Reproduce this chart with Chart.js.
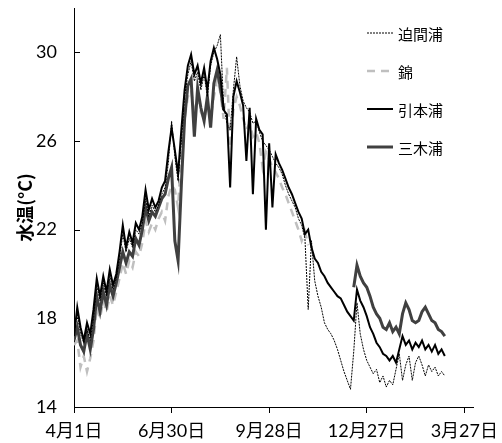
<!DOCTYPE html>
<html lang="ja">
<head>
<meta charset="utf-8">
<title>水温</title>
<script src="https://cdn.jsdelivr.net/npm/chart.js@4.4.1/dist/chart.umd.min.js"></script>
<style>
  body { margin: 0; background: #fff; }
  #wrap { position: relative; width: 502px; height: 443px; }
  .item { position: absolute; left: 367px; height: 24px; display: flex; align-items: center; white-space: nowrap;
          font-family: "Noto Sans CJK JP", sans-serif; font-size: 15px; color: #000; }
  .item svg { margin-right: 5px; }
</style>
</head>
<body>
<div id="wrap">
  <canvas id="tempChart"></canvas>
</div>
<script>
// sampled every 3 days from 4/1
const sampleStep = 3;

const xTickDays = [0, 90, 180, 270, 360];
const xTickLabels = ['4月1日', '6月30日', '9月28日', '12月27日', '3月27日'];
const yTicks = [14, 18, 22, 26, 30];

const seriesNames = ['迫間浦', '錦', '引本浦', '三木浦'];

const hasamaura = [
  17.4, 18.2, 17.3, 16.9, 17.5, 17.0, 18.0, 19.5, 18.8, 19.6,
  19.0, 19.9, 19.3, 19.8, 20.7, 21.8, 21.0, 21.6, 21.2, 22.0,
  21.8, 22.3, 23.4, 22.6, 23.1, 22.8, 23.1, 23.6, 23.9, 25.0,
  26.9, 25.3, 24.2, 26.0, 28.0, 29.0, 29.6, 28.7, 29.1, 28.3,
  29.0, 28.0, 29.4, 30.0, 30.3, 30.8, 27.6, 26.8, 26.5, 28.3,
  29.8, 28.5, 27.8, 27.5, 27.3, 26.8, 26.9, 26.4, 26.0, 25.8,
  25.6, 25.3, 25.0, 24.8, 24.5, 24.0, 23.6, 23.3, 23.0, 22.5,
  22.2, 21.6, 18.4, 21.5, 19.7, 19.0, 18.5, 17.8, 17.5, 17.3,
  17.0, 16.6, 16.1, 15.6, 15.2, 14.8, 16.5, 18.7, 17.3, 16.6,
  16.1, 15.8, 15.5, 15.7, 15.1, 15.4, 14.9, 15.2, 15.0, 15.7,
  16.4, 15.2, 15.9, 16.3, 15.2, 16.0, 16.3, 15.9, 15.4, 15.9,
  15.6, 15.8, 15.4, 15.6, 15.4
];

const nishiki = [
  16.8, 17.0, 15.8, 16.3, 15.6, 16.2, 17.0, 18.5, 18.0, 18.8,
  18.3, 19.0, 18.6, 19.2, 19.8, 20.5, 20.0, 20.6, 20.3, 21.0,
  20.8, 21.4, 22.4, 21.9, 22.3, 22.0, 22.5, 22.8, 22.4, 23.5,
  24.0, 23.8, 23.0, 25.5, 27.0, 28.0, 28.3, 27.2, 28.0, 27.3,
  27.0, 27.6, 27.0, 28.0, 28.8, 28.2, 27.0, 29.3, 25.7, 27.4,
  28.0, 27.6, 27.0, 26.5, 26.8, 26.2, 26.4, 25.9, 24.8, 25.5,
  25.2, 24.8, 24.6, 24.3, 23.9, 23.6, 23.2, 22.8, 22.4, 22.0,
  21.5, 21.9, 21.3
];

const hikimotoura = [
  17.2, 18.5, 17.6, 17.0, 17.8, 17.3, 18.4, 19.8, 19.0, 19.9,
  19.2, 20.2, 19.5, 20.0, 21.0, 22.2, 21.2, 21.9, 21.4, 22.3,
  22.0, 22.6, 23.8, 22.9, 23.4, 23.0, 23.3, 23.9, 24.2, 25.5,
  26.6, 25.6, 24.5, 26.5, 28.3, 29.4, 29.9, 29.0, 29.4, 28.6,
  29.3, 28.3, 29.6, 30.2, 29.7, 29.0, 27.4, 27.2, 23.9, 28.0,
  28.7, 28.2, 27.6, 25.1, 27.5, 23.6, 27.0, 26.5, 26.3, 22.0,
  25.9, 23.0, 25.4, 25.0, 24.7, 24.3, 23.9, 23.6, 23.2, 22.8,
  22.5, 21.8, 22.0, 21.2, 20.7, 20.5, 20.1, 19.9, 19.6, 19.4,
  19.2, 19.0, 18.9, 18.6, 18.3, 18.1, 17.9, 19.3, 18.8, 18.5,
  18.1, 17.6, 17.3, 16.9, 16.7, 16.4, 16.3, 16.1, 16.3, 16.0,
  16.6, 17.2, 16.8, 17.0, 16.6, 16.9, 16.7, 17.0, 16.6, 16.8,
  16.5, 16.8, 16.4, 16.6, 16.3
];

const mikiura = [
  17.0, 17.6, 16.8, 16.5, 17.3, 16.6, 17.5, 19.0, 18.3, 19.2,
  18.6, 19.5, 19.0, 19.6, 20.3, 21.0, 20.5, 21.0, 20.8, 21.6,
  21.3, 22.0, 23.0, 22.4, 22.8, 22.6, 23.0, 23.4, 23.6, 24.3,
  24.8, 21.5, 20.6, 24.0, 27.0, 28.5, 28.8, 26.2, 28.4, 27.5,
  26.9, 28.0, 26.6, 28.6, 29.2, 28.4, 27.4, null, null, null,
  null, null, null, null, null, null, null, null, null, null,
  null, null, null, null, null, null, null, null, null, null,
  null, null, null, null, null, null, null, null, null, null,
  null, null, null, null, null, null, 19.4, 20.4, 19.9, 19.6,
  19.4, 19.0, 18.5, 18.2, 18.0, 17.6, 17.5, 17.8, 17.4, 17.6,
  17.3, 18.2, 18.7, 18.4, 17.9, 17.8, 17.9, 18.3, 18.5, 18.2,
  17.9, 17.8, 17.5, 17.4, 17.2
];

const colors = ['#000000', '#bfbfbf', '#000000', '#404040'];
const widths = [1, 2.5, 2, 3];
const dashes = [[2, 1], [8, 6], [], []];
const drawOrder = [0, 3, 1, 2];

function toPoints(vals) {
  return vals.map((v, i) => ({ x: i * sampleStep, y: v }));
}

const allSeries = [hasamaura, nishiki, hikimotoura, mikiura];

const innerTicks = {
  id: 'innerTicks',
  afterDraw(chart) {
    const ctx = chart.ctx;
    const yScale = chart.scales.y;
    const left = chart.chartArea.left;
    ctx.save();
    ctx.strokeStyle = '#000';
    ctx.lineWidth = 1;
    yTicks.forEach(v => {
      const y = Math.round(yScale.getPixelForValue(v)) + 0.5;
      ctx.beginPath();
      ctx.moveTo(left, y);
      ctx.lineTo(left + 6, y);
      ctx.stroke();
    });
    ctx.restore();
  }
};

const tickFont = { family: 'Lato, "Noto Sans CJK JP", sans-serif', size: 18 };

document.addEventListener('DOMContentLoaded', function () {
    const ctx = document.getElementById('tempChart').getContext('2d');
    const tempChart = new Chart(ctx, {
        type: 'line',
        data: {
            datasets: seriesNames.map((name, i) => ({
                label: name,
                data: toPoints(allSeries[i]),
                borderColor: colors[i],
                borderWidth: widths[i],
                borderDash: dashes[i],
                pointRadius: 0,
                tension: 0,
                fill: false,
                spanGaps: false,
                order: drawOrder[i]
            }))
        },
        options: {
            responsive: true,
            maintainAspectRatio: false,
            animation: false,
            layout: { padding: { top: 8, right: 29, left: 0, bottom: 0 } },
            plugins: {
                legend: { display: false },
                tooltip: { enabled: false }
            },
            scales: {
                x: {
                    type: 'linear',
                    min: 0,
                    max: 368,
                    afterBuildTicks: scale => { scale.ticks = xTickDays.map(v => ({ value: v })); },
                    afterFit: scale => {
                        scale.height = 36;
                        scale.paddingLeft = 0;
                        scale.paddingRight = 0;
                    },
                    grid: { drawOnChartArea: false, drawTicks: true, tickLength: 6, tickColor: '#000' },
                    border: { color: '#000', width: 1 },
                    ticks: {
                        autoSkip: false,
                        maxRotation: 0,
                        padding: 7,
                        color: '#000',
                        font: tickFont,
                        callback: (v, i) => xTickLabels[i]
                    }
                },
                y: {
                    min: 14,
                    max: 32,
                    afterBuildTicks: scale => { scale.ticks = yTicks.map(v => ({ value: v })); },
                    afterFit: scale => {
                        scale.width = 74;
                        scale.paddingTop = 0;
                        scale.paddingBottom = 0;
                    },
                    grid: { display: false, drawTicks: false },
                    border: { color: '#000', width: 1 },
                    ticks: { padding: 17, color: '#000', font: tickFont },
                    title: {
                        display: true,
                        text: '水温(°C)',
                        color: '#000',
                        padding: { top: 14, bottom: 0 },
                        font: { family: '"Noto Sans CJK JP", sans-serif', size: 18, weight: 'bold' }
                    }
                }
            }
        },
        plugins: [innerTicks]
    });

    // legend drawn as html beside the lines
    const wrap = document.getElementById('wrap');
    const legendTops = [21, 59, 97, 135];
    seriesNames.forEach((name, i) => {
        const item = document.createElement('div');
        item.className = 'item';
        item.style.top = legendTops[i] + 'px';
        const dash = dashes[i].length ? dashes[i].join(' ') : 'none';
        item.innerHTML = '<svg width="26" height="6"><line x1="0" y1="3" x2="26" y2="3" stroke="' + colors[i] +
            '" stroke-width="' + widths[i] + '" stroke-dasharray="' + dash + '"/></svg>' + name;
        wrap.appendChild(item);
    });
});
</script>
</body>
</html>
